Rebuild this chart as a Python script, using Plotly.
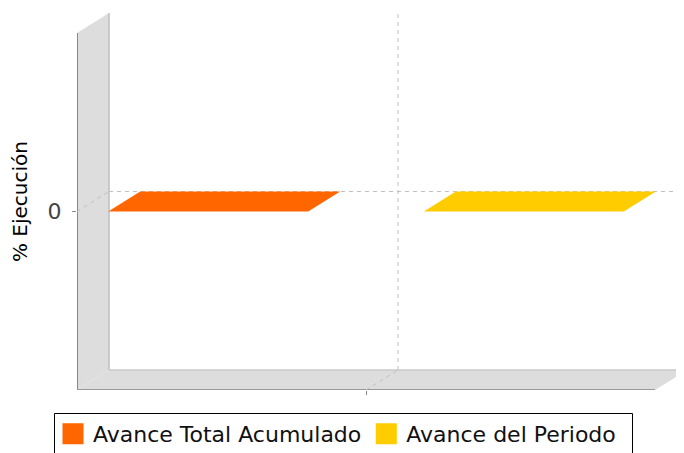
import plotly.graph_objects as go

# ---- data ----
categories = [""]
series = ["Avance Total Acumulado", "Avance del Periodo"]
values = [0, 0]
colors = ["#FF6600", "#FFCC00"]
y_tick_vals = [0]
y_tick_text = ["0"]
y_axis_title = "% Ejecución"

# ---- layout constants (pixels, page coordinates minus the 8px body margin) ----
PAGE_OFF = 8
FIG_W, FIG_H = 684, 453
LEFT, RIGHT, TOP, BOTTOM = 77 - PAGE_OFF, 684 - PAGE_OFF, 13 - PAGE_OFF, 390 - PAGE_OFF
FRONT_W, FRONT_H = 578, 357                        # front plane size
DEPTH_PX_X, DEPTH_PX_Y = 32, 20

VMIN, VMAX = -1.0, 1.0                              # front plane value range
px_per_x = FRONT_W / 1.0                           # one category spans 1 unit
px_per_y = FRONT_H / (VMAX - VMIN)
x_range = [-0.5, -0.5 + (RIGHT - LEFT) / px_per_x]
y_range = [VMIN, VMIN + (BOTTOM - TOP) / px_per_y]
DX = DEPTH_PX_X / px_per_x
DY = DEPTH_PX_Y / px_per_y

BAR_W = 0.346
BAR_GAP = 0.2

WALL = "#DDDDDD"
GRID = "#C0C0C0"


def path(points):
    return "M " + " L ".join(f"{x},{y}" for x, y in points) + " Z"


shapes = []
# left wall
shapes.append(dict(type="path", xref="x", yref="y", layer="below",
                   path=path([(-0.5, VMIN), (-0.5, VMAX), (-0.5 + DX, VMAX + DY), (-0.5 + DX, VMIN + DY)]),
                   fillcolor=WALL, line=dict(width=0)))
# floor
shapes.append(dict(type="path", xref="x", yref="y", layer="below",
                   path=path([(-0.5, VMIN), (0.5, VMIN), (0.5 + DX, VMIN + DY), (-0.5 + DX, VMIN + DY)]),
                   fillcolor=WALL, line=dict(width=0)))
# wall / floor edges
shapes.append(dict(type="line", xref="x", yref="y", layer="below",
                   x0=-0.5 + DX, y0=VMIN + DY, x1=-0.5 + DX, y1=VMAX + DY,
                   line=dict(color="#BEBEBE", width=1.5)))
shapes.append(dict(type="line", xref="x", yref="y", layer="below",
                   x0=-0.5 + DX, y0=VMIN + DY, x1=x_range[1], y1=VMIN + DY,
                   line=dict(color="#C8C8C8", width=1.5)))
shapes.append(dict(type="line", xref="x", yref="y", layer="below",
                   x0=-0.5, y0=VMIN, x1=-0.5, y1=VMAX,
                   line=dict(color="#888888", width=2)))
shapes.append(dict(type="line", xref="x", yref="y", layer="below",
                   x0=-0.5, y0=VMIN, x1=0.5, y1=VMIN,
                   line=dict(color="#999999", width=2)))

# value gridlines (on back plane + left wall)
for v in y_tick_vals:
    shapes.append(dict(type="line", xref="x", yref="y", layer="below",
                       x0=-0.5 + DX, y0=v + DY, x1=x_range[1], y1=v + DY,
                       line=dict(color=GRID, width=1, dash="4px,4px")))
    shapes.append(dict(type="line", xref="x", yref="y", layer="below",
                       x0=-0.5, y0=v, x1=-0.5 + DX, y1=v + DY,
                       line=dict(color=GRID, width=1, dash="4px,4px")))
# category gridlines (on back plane + floor)
for i, _ in enumerate(categories):
    cx = i
    shapes.append(dict(type="line", xref="x", yref="y", layer="below",
                       x0=cx + DX, y0=VMIN + DY, x1=cx + DX, y1=VMAX + DY,
                       line=dict(color=GRID, width=1, dash="4px,4px")))
    shapes.append(dict(type="line", xref="x", yref="y", layer="below",
                       x0=cx, y0=VMIN, x1=cx + DX, y1=VMIN + DY,
                       line=dict(color=GRID, width=1, dash="4px,4px")))


def px_to_paper_x(px):
    return (px - PAGE_OFF - LEFT) / (RIGHT - LEFT)


def px_to_paper_y(py):
    return (BOTTOM - (py - PAGE_OFF)) / (BOTTOM - TOP)


# legend frame (bottom runs past the picture edge)
shapes.append(dict(type="rect", xref="paper", yref="paper", layer="above",
                   x0=px_to_paper_x(54.5), x1=px_to_paper_x(632.5),
                   y0=px_to_paper_y(413.5), y1=px_to_paper_y(480),
                   line=dict(color="#000000", width=1), fillcolor="rgba(0,0,0,0)"))

fig = go.Figure()

n = len(series)
for ci, _ in enumerate(categories):
    for si, (name, v, col) in enumerate(zip(series, values, colors)):
        group_w = n * BAR_W + (n - 1) * BAR_GAP
        x0 = ci - group_w / 2 + si * (BAR_W + BAR_GAP)
        x1 = x0 + BAR_W
        base = 0
        xs = [x0, x1, x1 + DX, x1 + DX, x0 + DX, x0, x0]
        ys = [base, base, base + DY, v + DY, v + DY, v, base]
        fig.add_trace(go.Scatter(x=xs, y=ys, mode="lines", fill="toself",
                                 fillcolor=col, line=dict(width=0, color=col),
                                 showlegend=False, hoverinfo="skip"))

for name, col in zip(series, colors):
    fig.add_trace(go.Scatter(x=[None], y=[None], mode="markers", name=name,
                             marker=dict(symbol="square", size=16, color=col,
                                         line=dict(color=col, width=5))))

fig.update_layout(
    width=FIG_W, height=FIG_H,
    margin=dict(l=LEFT, r=FIG_W - RIGHT, t=TOP, b=FIG_H - BOTTOM, pad=0, autoexpand=False),
    paper_bgcolor="white", plot_bgcolor="white",
    font=dict(family="DejaVu Sans", color="#000000"),
    shapes=shapes,
    showlegend=True,
    legend=dict(orientation="h", x=px_to_paper_x(53), xanchor="left",
                y=px_to_paper_y(413), yanchor="top",
                font=dict(size=22, color="#111111"), borderwidth=0,
                bgcolor="rgba(0,0,0,0)", itemsizing="trace"),
    xaxis=dict(range=x_range, showgrid=False, zeroline=False, showline=False,
               tickmode="array", tickvals=list(range(len(categories))), ticktext=categories,
               ticks="outside", ticklen=4, tickcolor="#888888", fixedrange=True),
    yaxis=dict(range=y_range, showgrid=False, zeroline=False, showline=False,
               tickmode="array", tickvals=y_tick_vals, ticktext=y_tick_text,
               ticks="outside", ticklen=4, tickcolor="#888888",
               tickfont=dict(size=22, color="#444444"), ticklabelstandoff=6,
               title=dict(text=y_axis_title, font=dict(size=20, color="#000000"), standoff=14),
               fixedrange=True),
)

fig.write_html("out.html")
